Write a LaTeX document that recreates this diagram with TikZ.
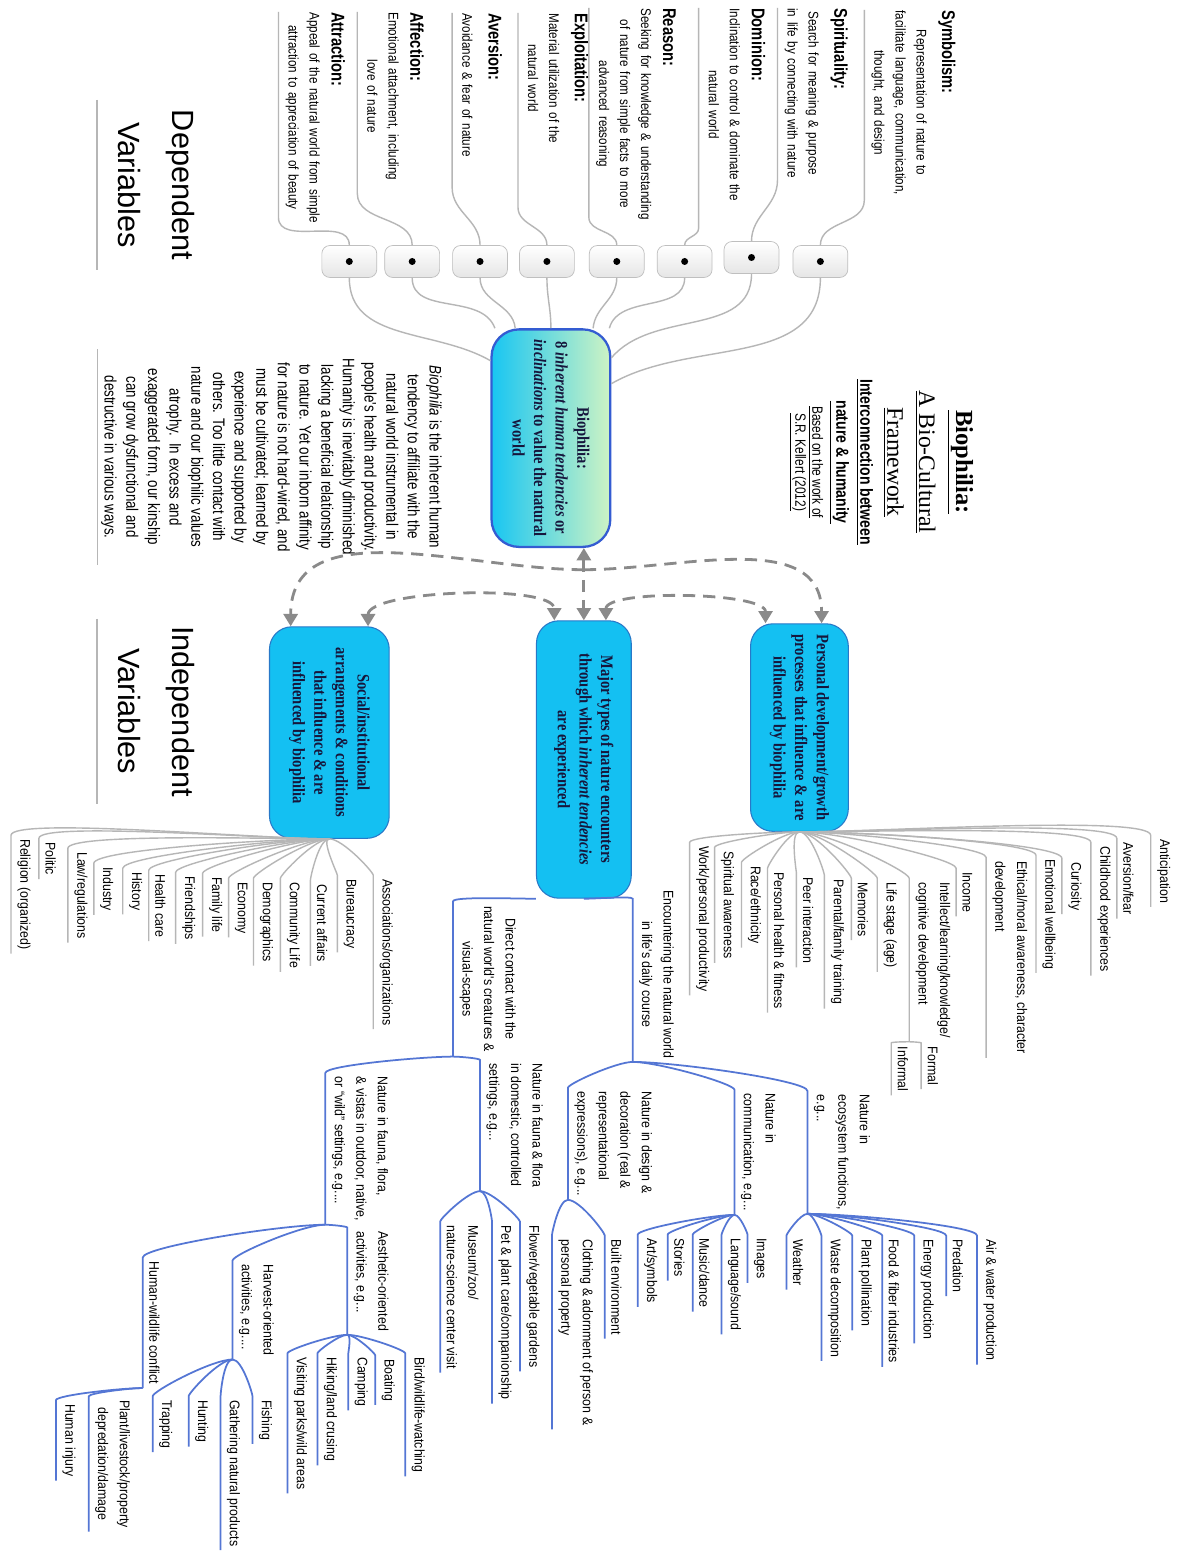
\documentclass[tikz,border=0pt]{standalone}
\usepackage{fontspec}
\setmainfont{Liberation Sans}
\newfontfamily\famNarrow{Liberation Sans}[FakeStretch=0.88]
\newfontfamily\famDesc{Liberation Sans}[FakeStretch=0.83]
\newfontfamily\famCond{Liberation Sans}[FakeStretch=0.8]
\newfontfamily\famSerifC{Liberation Serif}[FakeStretch=0.83]
\newfontfamily\famSerif{Liberation Serif}
\usetikzlibrary{arrows.meta}

\definecolor{biocyan}{RGB}{24,198,242}
\definecolor{biogreen}{RGB}{206,243,196}
\definecolor{bioline}{RGB}{52,92,210}
\definecolor{boxcyan}{RGB}{20,192,242}
\definecolor{boxline}{RGB}{40,120,200}
\definecolor{boxtext}{RGB}{22,22,60}
\definecolor{greylink}{RGB}{182,182,182}
\definecolor{biolink}{RGB}{84,118,212}
\definecolor{arrgrey}{RGB}{138,138,138}

\newcommand{\fItem}{\famNarrow\fontsize{8}{12.3}\selectfont}
\newcommand{\fDesc}{\famDesc\fontsize{8}{12}\selectfont}
\newcommand{\fVal}{\famCond\bfseries\fontsize{10.5}{14}\selectfont}
\newcommand{\fBox}{\famSerifC\bfseries\fontsize{10}{12.3}\selectfont}
\newcommand{\fPara}{\famCond\fontsize{9.5}{12.35}\selectfont}
\newcommand{\fBig}{\fontsize{17.5}{31}\selectfont}
\newcommand{\valtext}[2]{{\fVal #1}\\[3pt]\begin{tabular}[b]{@{}c@{}}#2\end{tabular}}

\begin{document}
\begin{tikzpicture}[x=0.02cm, y=0.02cm, rotate=-90,
  every node/.append style={transform shape},
  >={Triangle[length=7pt,width=8pt]},
  glink/.style={draw=greylink, line width=0.8pt},
  blink/.style={draw=biolink, line width=1pt},
  mmcurve/.style={in=180, out looseness=0.6, in looseness=0.15},
  darrow/.style={draw=arrgrey, line width=1.6pt, dash pattern=on 7pt off 4.5pt},
  dotbox/.style={draw=gray!50, rounded corners=0.16cm, top color=white, bottom color=gray!20,
    minimum width=0.64cm, minimum height=1.1cm,
    path picture={\fill (path picture bounding box.center) circle (0.07cm);}},
  val/.style={anchor=south west, inner xsep=0pt, inner ysep=2pt, align=left, font=\fDesc},
  item/.style={anchor=south west, inner xsep=2pt, inner ysep=3.5pt, align=left, font=\fItem},
  biobox/.style={draw=bioline, line width=1.3pt, rounded corners=0.55cm, left color=biocyan,
    right color=biogreen, minimum width=4.36cm, minimum height=2.38cm, align=center,
    font=\fBox, text=boxtext},
  indbox/.style={draw=boxline, line width=0.6pt, fill=boxcyan, rounded corners=0.45cm,
    align=center, font=\fBox, text=boxtext},
  biglabel/.style={anchor=south west, align=center, font=\fBig, inner xsep=0pt, inner ysep=12pt},
  para/.style={align=center, font=\fPara, inner ysep=2pt, minimum width=4.3cm},
  ttl/.style={anchor=base, inner sep=0pt}]

\fill[white] (0,0) rectangle (1551,1193);

% headings
\node[biglabel, minimum width=3.4cm] (dep) at (100,97) {Dependent\\Variables};
\node[biglabel, minimum width=3.7cm] (indep) at (620,97) {Independent\\Variables};

\node[ttl, font={\famSerif\bfseries\fontsize{14}{16}\selectfont}] (t1) at (463,958) {\underline{Biophilia:}};
\node[ttl, font={\famSerif\fontsize{13.5}{16}\selectfont}] (t2) at (463,921) {\underline{A Bio-Cultural}};
\node[ttl, font={\famSerif\fontsize{13.5}{16}\selectfont}] (t3) at (463,889) {\underline{Framework}};
\node[ttl, font={\famCond\bfseries\fontsize{10}{12}\selectfont}] (t4) at (463,862) {\underline{Interconnection between}};
\node[ttl, font={\famCond\bfseries\fontsize{10}{12}\selectfont}] (t5) at (463,838) {\underline{nature \& humanity}};
\node[ttl, font={\famCond\fontsize{8.5}{10}\selectfont}] (t6) at (463,814) {\underline{Based on the work of}};
\node[ttl, font={\famCond\fontsize{8.5}{10}\selectfont}] (t7) at (463,797) {\underline{S.R. Kellert (2012)}};

\node[para] (para) at (458,272) {\textit{Biophilia} is the inherent human\\
  tendency to affiliate with the\\ natural world instrumental in\\
  people's health and productivity.\\ Humanity is inevitably diminished\\
  lacking a beneficial relationship\\ to nature. Yet our inborn affinity\\
  for nature is not hard-wired, and\\ must be cultivated; learned by\\
  experience and supported by\\ others. Too little contact with\\
  nature and our biophilic values\\ atrophy.\ \ In excess and\\
  exaggerated form, our kinship\\ can grow dysfunctional and\\
  destructive in various ways.};

\foreach \n in {dep,indep,para}
  \draw[glink] (\n.south west) -- (\n.south east);

% central topic
\node[biobox] (bio) at (439,552) {Biophilia:\\ 8 \textit{inherent human tendencies} or\\
  \textit{inclinations} to value the natural\\ world};

% dependent variables
\node[dotbox] (d1) at (262,350) {};
\node[dotbox] (d2) at (262,413) {};
\node[dotbox] (d3) at (262,481) {};
\node[dotbox] (d4) at (262,548) {};
\node[dotbox] (d5) at (262,618) {};
\node[dotbox] (d6) at (262,686) {};
\node[dotbox] (d7) at (258,753) {};
\node[dotbox] (d8) at (262,822) {};

\node[val, text width=4.1cm] (v1) at (12,279) {\valtext{Attraction:}{Appeal of the natural world from simple\\attraction to appreciation of beauty}};
\node[val, text width=3.62cm] (v2) at (12,358) {\valtext{Affection:}{Emotional attachment, including\\love of nature}};
\node[val, text width=3.48cm] (v3) at (13,453) {\valtext{Aversion:}{Avoidance \& fear of nature}};
\node[val, text width=3.88cm] (v4) at (13,519) {\valtext{Exploitation:}{Material utilization of the\\natural world}};
\node[val, text width=4.18cm] (v5) at (8,590) {\valtext{Reason:}{Seeking for knowledge \& understanding\\of nature from simple facts to more\\advanced reasoning}};
\node[val, text width=4.4cm] (v6) at (8,700) {\valtext{Dominion:}{Inclination to control \& dominate the\\natural world}};
\node[val, text width=3.44cm] (v7) at (8,779) {\valtext{Spirituality:}{Search for meaning \& purpose\\in life by connecting with nature}};
\node[val, text width=3.8cm] (v8) at (10,866) {\valtext{Symbolism:}{Representation of nature to\\facilitate language, communication,\\thought, and design}};

\foreach \i in {1,...,8}
  \draw[glink] (d\i.west) to[out=180,in=0] (v\i.south east) -- (v\i.south west);
\foreach \i/\a/\b in {1/218/240,2/207/200,3/198/185,4/180/180,5/159/175,6/152/165,7/143/140,8/132/120}
  \draw[glink] (d\i.east) to[out=0,in=\b] (bio.\a);

% independent variables
\node[indbox, minimum width=4.24cm, minimum height=2.4cm] (social) at (734,330)
  {Social/institutional\\ arrangements \& conditions\\ that influence \& are\\ influenced by biophilia};
\node[indbox, minimum width=5.56cm, minimum height=1.9cm] (major) at (761,585)
  {Major types of nature encounters\\ through which \textit{inherent tendencies}\\ are experienced};
\node[indbox, minimum width=4.16cm, minimum height=1.96cm] (pers) at (729,801)
  {Personal development/growth\\ processes that influence \& are\\ influenced by biophilia};

\path (bio.east |- major.west) -- (major.west) coordinate[pos=0.3] (split);
\draw[darrow, <->] (bio.east |- major.west) -- (major.west);
\draw[darrow, ->] (split) to[out=270,in=180] (social.200);
\draw[darrow, ->] (split) to[out=90,in=180] (pers.168);
\draw[darrow, <->] (social.160) to[out=180,in=180,looseness=0.5] (major.192);
\draw[darrow, <->] (major.171) to[out=180,in=180,looseness=0.5] (pers.198);

% personal development
\node[item] (p1) at (837,1153) {Anticipation};
\node[item] (p2) at (840,1119) {Aversion/fear};
\node[item] (p3) at (844,1093) {Childhood experiences};
\node[item] (p4) at (860,1064) {Curiosity};
\node[item] (p5) at (857,1038) {Emotional wellbeing};
\node[item] (p6) at (859,988) {Ethical/moral awareness, character\\development};
\node[item] (p7) at (870,958) {Income};
\node[item] (p8) at (880,911) {Intellect/learning/knowledge/\\cognitive development};
\node[item] (p9) at (880,879) {Life stage (age)};
\node[item] (p10) at (880,853) {Memories};
\node[item] (p11) at (877,826) {Parental/family training};
\node[item] (p12) at (875,798) {Peer interaction};
\node[item] (p13) at (870,769) {Personal health \& fitness};
\node[item] (p14) at (864,743) {Race/ethnicity};
\node[item] (p15) at (849,716) {Spiritual awareness};
\node[item] (p16) at (844,691) {Work/personal productivity};
\node[item] (p17) at (1045,923) {Formal};
\node[item] (p18) at (1045,893) {Informal};

\foreach \n/\o in {p1/90,p2/90,p3/90,p4/90,p5/90,p6/90,p7/90,p8/90,p9/90,p10/90,p11/90,
    p12/270,p13/270,p14/270,p15/270,p16/270}
  \draw[glink] (pers.east) to[out=\o,mmcurve] (\n.south west) -- (\n.south east);
\foreach \n/\o in {p17/90,p18/270}
  \draw[glink] (p8.south east) to[out=\o,mmcurve] (\n.south west) -- (\n.south east);

% social / institutional
\node[item] (s1) at (877,374) {Associations/organizations};
\node[item] (s2) at (877,338) {Bureaucracy};
\node[item] (s3) at (882,311) {Current affairs};
\node[item] (s4) at (880,281) {Community Life};
\node[item] (s5) at (880,254) {Demographics};
\node[item] (s6) at (880,229) {Economy};
\node[item] (s7) at (875,203) {Family life};
\node[item] (s8) at (874,176) {Friendships};
\node[item] (s9) at (872,149) {Health care};
\node[item] (s10) at (870,123) {History};
\node[item] (s11) at (865,94) {Industry};
\node[item] (s12) at (850,68) {Law/regulations};
\node[item] (s13) at (840,39) {Politic};
\node[item] (s14) at (837,11) {Religion (organized)};

\foreach \n/\o in {s1/90,s2/270,s3/270,s4/270,s5/270,s6/270,s7/270,s8/270,s9/270,
    s10/270,s11/270,s12/270,s13/270,s14/270}
  \draw[glink] (social.east) to[out=\o,mmcurve] (\n.south west) -- (\n.south east);

% nature encounters
\node[item, anchor=south east, align=center] (enc) at (1064,634) {Encountering the natural world\\in life's daily course};
\node[item, align=center, minimum width=3.1cm] (direct) at (903,454) {Direct contact with the\\natural world's creatures \&\\visual-scapes};
\draw[blink] (major.east) to[out=90,mmcurve] (major.east |- enc.south) -- (enc.south east);

\node[item] (e1) at (1093,809) {Nature in\\ecosystem functions,\\e.g...};
\node[item] (e2) at (1092,736) {Nature in\\communication, e.g...};
\node[item] (e3) at (1090,569) {Nature in design \&\\decoration (real \&\\representational\\expressions), e.g...};

\node[item] (e1a) at (1238,979) {Air \& water production};
\node[item] (e1b) at (1238,948) {Predation};
\node[item] (e1c) at (1238,916) {Energy production};
\node[item] (e1d) at (1238,884) {Food \& fiber industries};
\node[item] (e1e) at (1238,854) {Plant pollination};
\node[item] (e1f) at (1238,823) {Waste decomposition};
\node[item] (e1g) at (1238,788) {Weather};

\node[item] (e2a) at (1237,749) {Images};
\node[item] (e2b) at (1237,723) {Language/sound};
\node[item] (e2c) at (1237,694) {Music/dance};
\node[item] (e2d) at (1237,669) {Stories};
\node[item] (e2e) at (1237,639) {Art/symbols};

\node[item] (e3a) at (1238,606) {Built environment};
\node[item] (e3b) at (1238,553) {Clothing \& adornment of person \&\\personal property};

\node[item] (f1) at (1062,481) {Nature in fauna \& flora\\in domestic, controlled\\settings, e.g...};
\node[item] (f2) at (1075,326) {Nature in fauna, flora,\\\& vistas in outdoor, native,\\or “wild” settings, e.g....};

\node[item] (f1a) at (1224,521) {Flower/vegetable gardens};
\node[item] (f1b) at (1224,493) {Pet \& plant care/companionship};
\node[item] (f1c) at (1224,441) {Museum/zoo/\\nature-science center visit};

\node[item] (f2a) at (1230,348) {Aesthetic-oriented\\activities, e.g...};
\node[item] (f2b) at (1263,233) {Harvest-oriented\\activities, e.g....};
\node[item] (f2c) at (1260,143) {Human-wildlife conflict};

\node[item] (g1) at (1356,406) {Bird/wildlife-watching};
\node[item] (g2) at (1358,376) {Boating};
\node[item] (g3) at (1356,349) {Camping};
\node[item] (g4) at (1356,318) {Hiking/land crusing};
\node[item] (g5) at (1356,288) {Visiting parks/wild areas};

\node[item] (h1) at (1399,253) {Fishing};
\node[item] (h2) at (1399,221) {Gathering natural products};
\node[item] (h3) at (1399,189) {Hunting};
\node[item] (h4) at (1399,153) {Trapping};

\node[item, align=center] (k1) at (1399,89) {Plant/livestock/property\\depredation/damage};
\node[item] (k2) at (1403,56) {Human injury};

\foreach \p/\n/\o in {major/direct/270, enc/e1/90, enc/e2/90, enc/e3/270,
    e1/e1a/90, e1/e1b/90, e1/e1c/90, e1/e1d/90, e1/e1e/90, e1/e1f/90, e1/e1g/270,
    e2/e2a/90, e2/e2b/270, e2/e2c/270, e2/e2d/270, e2/e2e/270, e3/e3a/90, e3/e3b/270,
    direct/f1/90, direct/f2/270, f1/f1a/90, f1/f1b/90, f1/f1c/270,
    f2/f2a/90, f2/f2b/270, f2/f2c/270, f2a/g1/90, f2a/g2/90, f2a/g3/90, f2a/g4/270, f2a/g5/270,
    f2b/h1/90, f2b/h2/270, f2b/h3/270, f2b/h4/270, f2c/k1/270, f2c/k2/270}
  \draw[blink] (\p.south east) to[out=\o,mmcurve] (\n.south west) -- (\n.south east);

\end{tikzpicture}
\end{document}
